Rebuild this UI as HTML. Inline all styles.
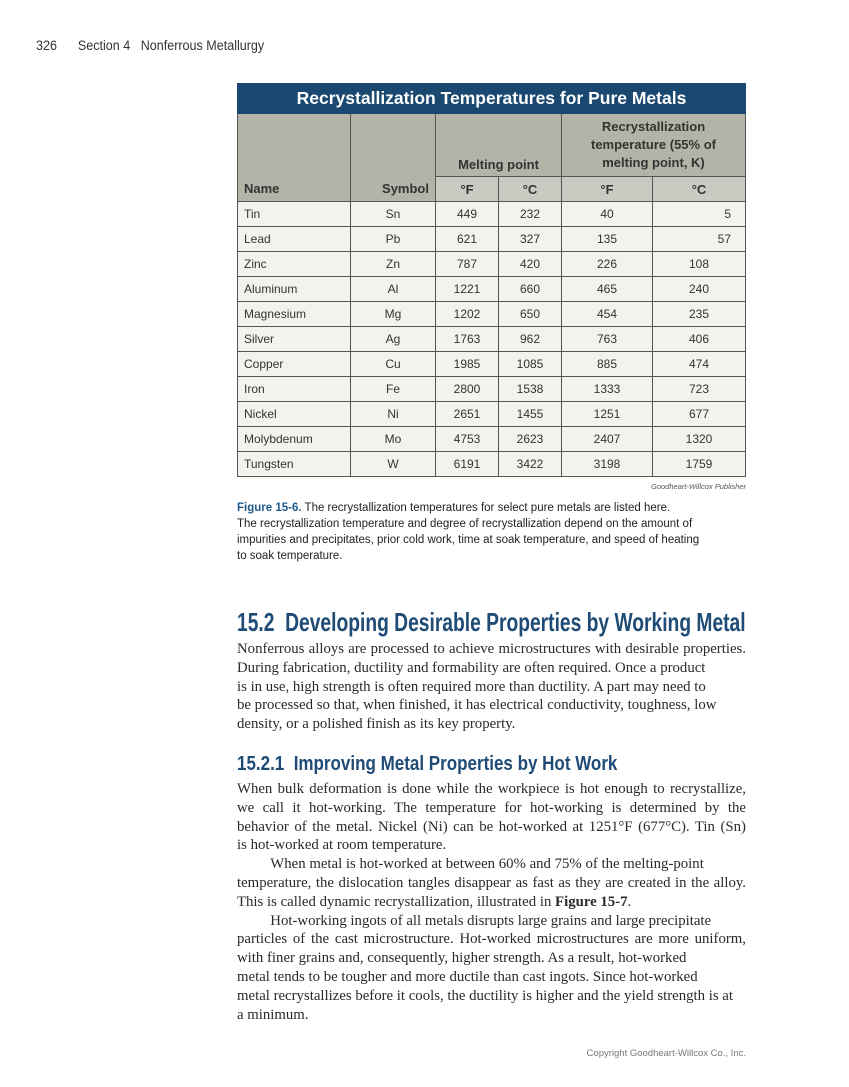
<!DOCTYPE html>
<html><head><meta charset="utf-8"><style>
body{margin:0;width:849px;height:1087px;background:#fff;position:relative;overflow:hidden;font-family:"Liberation Sans",sans-serif}
.a{position:absolute;white-space:nowrap}
table{position:absolute;left:237px;top:83px;width:509px;border-collapse:collapse;font-size:12px;color:#333}
td{border:1px solid #555;padding:0 6px;height:24px}
.t{background:#1b4870;color:#fff;font-weight:bold;font-size:17.5px;text-align:center;height:29px;border-color:#1b4870}
.h{background:#b4b3a7;font-weight:bold;color:#333;font-size:13px}
.s{background:#cbcac2;font-weight:bold;text-align:center;font-size:13px}
.r td{background:#f3f2ec}
.c{text-align:center}
.b{position:absolute;left:237px;width:509px;font-family:"Liberation Serif",serif;font-size:14.8px;color:#2a2a2a;white-space:nowrap}
.j{text-align:justify;text-align-last:justify}
h2,h3{position:absolute;margin:0;color:#1f4b76;font-family:"Liberation Sans",sans-serif;font-weight:bold;white-space:nowrap;transform-origin:0 0}
</style></head><body>
<div class="a" style="left:36px;top:38px;font-size:13.5px;color:#333;transform:scaleX(0.93);transform-origin:0 0">326&nbsp;&nbsp;&nbsp;&nbsp;&nbsp;&nbsp;Section 4&nbsp;&nbsp;&nbsp;Nonferrous Metallurgy</div>
<table>
<tr><td class="t" colspan="6">Recrystallization Temperatures for Pure Metals</td></tr>
<tr style="height:63px"><td class="h" rowspan="2" style="width:100px;vertical-align:bottom;padding-bottom:5px;border-bottom-color:#555">Name</td><td class="h" rowspan="2" style="width:72px;vertical-align:bottom;text-align:right;padding-bottom:5px">Symbol</td><td class="h" colspan="2" style="vertical-align:bottom;text-align:center;padding-bottom:4px">Melting point</td><td class="h" colspan="2" style="vertical-align:bottom;text-align:center;padding-bottom:4px;line-height:18px">Recrystallization<br>temperature (55% of<br>melting point, K)</td></tr>
<tr><td class="s" style="width:50px">°F</td><td class="s" style="width:50px">°C</td><td class="s" style="width:78px">°F</td><td class="s">°C</td></tr>
<tr class="r"><td>Tin</td><td class="c">Sn</td><td class="c">449</td><td class="c">232</td><td class="c">40</td><td style="text-align:right;padding-right:14px">5</td></tr>
<tr class="r"><td>Lead</td><td class="c">Pb</td><td class="c">621</td><td class="c">327</td><td class="c">135</td><td style="text-align:right;padding-right:14px">57</td></tr>
<tr class="r"><td>Zinc</td><td class="c">Zn</td><td class="c">787</td><td class="c">420</td><td class="c">226</td><td class="c">108</td></tr>
<tr class="r"><td>Aluminum</td><td class="c">Al</td><td class="c">1221</td><td class="c">660</td><td class="c">465</td><td class="c">240</td></tr>
<tr class="r"><td>Magnesium</td><td class="c">Mg</td><td class="c">1202</td><td class="c">650</td><td class="c">454</td><td class="c">235</td></tr>
<tr class="r"><td>Silver</td><td class="c">Ag</td><td class="c">1763</td><td class="c">962</td><td class="c">763</td><td class="c">406</td></tr>
<tr class="r"><td>Copper</td><td class="c">Cu</td><td class="c">1985</td><td class="c">1085</td><td class="c">885</td><td class="c">474</td></tr>
<tr class="r"><td>Iron</td><td class="c">Fe</td><td class="c">2800</td><td class="c">1538</td><td class="c">1333</td><td class="c">723</td></tr>
<tr class="r"><td>Nickel</td><td class="c">Ni</td><td class="c">2651</td><td class="c">1455</td><td class="c">1251</td><td class="c">677</td></tr>
<tr class="r"><td>Molybdenum</td><td class="c">Mo</td><td class="c">4753</td><td class="c">2623</td><td class="c">2407</td><td class="c">1320</td></tr>
<tr class="r"><td>Tungsten</td><td class="c">W</td><td class="c">6191</td><td class="c">3422</td><td class="c">3198</td><td class="c">1759</td></tr>
</table>
<div class="a" style="right:103px;top:482px;font-size:7.5px;font-style:italic;color:#555">Goodheart-Willcox Publisher</div>
<div class="a" style="left:237px;top:500px;font-size:11.5px;line-height:16px;color:#222"><b style="color:#1f5a8a">Figure 15-6.</b> The recrystallization temperatures for select pure metals are listed here.<br>The recrystallization temperature and degree of recrystallization depend on the amount of<br>impurities and precipitates, prior cold work, time at soak temperature, and speed of heating<br>to soak temperature.</div>
<h2 style="left:237px;top:607px;font-size:26px;transform:scaleX(0.74)">15.2&nbsp; Developing Desirable Properties by Working Metal</h2>
<div class="b j" style="top:641px">Nonferrous alloys are processed to achieve microstructures with desirable properties.</div>
<div class="b" style="top:660px">During fabrication, ductility and formability are often required. Once a product</div>
<div class="b" style="top:679px">is in use, high strength is often required more than ductility. A part may need to</div>
<div class="b" style="top:697px">be processed so that, when finished, it has electrical conductivity, toughness, low</div>
<div class="b" style="top:716px">density, or a polished finish as its key property.</div>
<h3 style="left:237px;top:753px;font-size:20px;transform:scaleX(0.85)">15.2.1&nbsp; Improving Metal Properties by Hot Work</h3>
<div class="b j" style="top:781px">When bulk deformation is done while the workpiece is hot enough to recrystallize,</div>
<div class="b j" style="top:800px">we call it hot-working. The temperature for hot-working is determined by the</div>
<div class="b j" style="top:819px">behavior of the metal. Nickel (Ni) can be hot-worked at 1251°F (677°C). Tin (Sn)</div>
<div class="b" style="top:837px">is hot-worked at room temperature.</div>
<div class="b" style="top:856px">&nbsp;&nbsp;&nbsp;&nbsp;&nbsp;&nbsp;&nbsp;&nbsp;&nbsp;When metal is hot-worked at between 60% and 75% of the melting-point</div>
<div class="b j" style="top:875px">temperature, the dislocation tangles disappear as fast as they are created in the alloy.</div>
<div class="b" style="top:894px">This is called dynamic recrystallization, illustrated in <b>Figure 15-7</b>.</div>
<div class="b" style="top:913px">&nbsp;&nbsp;&nbsp;&nbsp;&nbsp;&nbsp;&nbsp;&nbsp;&nbsp;Hot-working ingots of all metals disrupts large grains and large precipitate</div>
<div class="b j" style="top:931px">particles of the cast microstructure. Hot-worked microstructures are more uniform,</div>
<div class="b" style="top:950px">with finer grains and, consequently, higher strength. As a result, hot-worked</div>
<div class="b" style="top:969px">metal tends to be tougher and more ductile than cast ingots. Since hot-worked</div>
<div class="b" style="top:988px">metal recrystallizes before it cools, the ductility is higher and the yield strength is at</div>
<div class="b" style="top:1007px">a minimum.</div>
<div class="a" style="right:103px;top:1048px;font-size:9.5px;color:#777">Copyright Goodheart-Willcox Co., Inc.</div>
</body></html>
